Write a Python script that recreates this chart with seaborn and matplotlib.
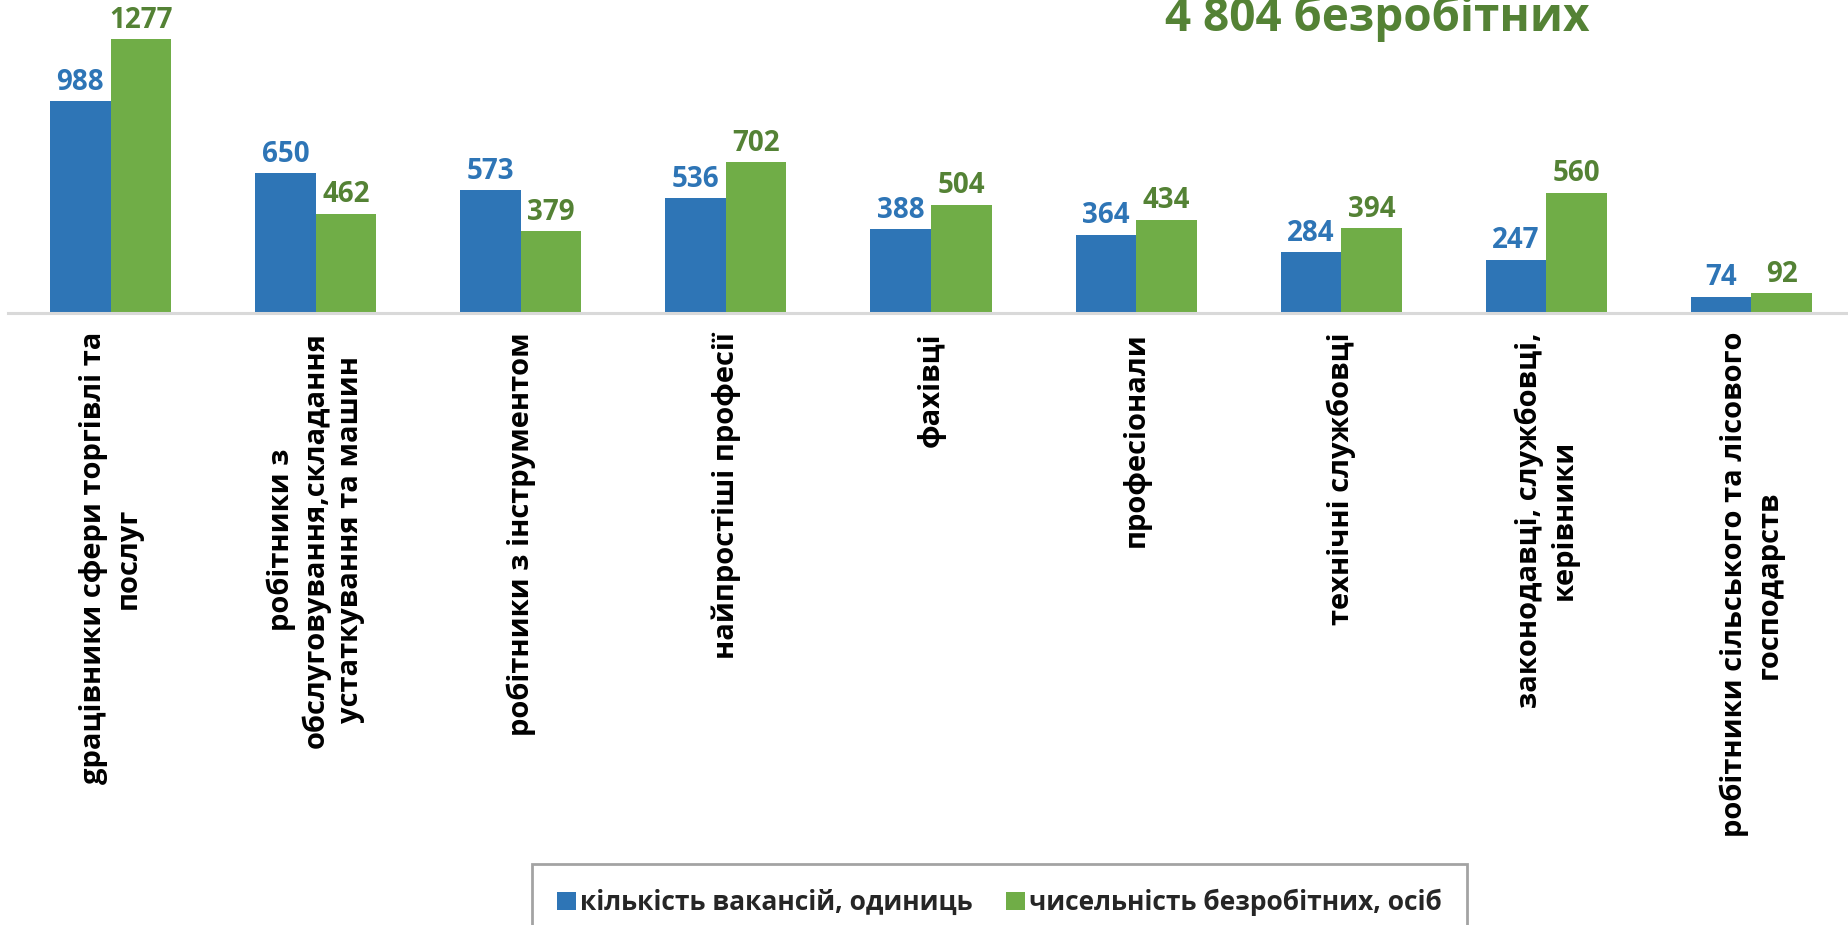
import matplotlib
matplotlib.use("Agg")
import matplotlib.pyplot as plt
import seaborn as sns
import pandas as pd

categories = [
    "gрацівники сфери торгівлі та\nпослуг",
    "робітники з\nобслуговування,складання\nустаткування та машин",
    "робітники з інструментом",
    "найпростіші професії",
    "фахівці",
    "професіонали",
    "технічні службовці",
    "законодавці, службовці,\nкерівники",
    "робітники сільського та лісового\nгосподарств",
]
vacancies = [988, 650, 573, 536, 388, 364, 284, 247, 74]
unemployed = [1277, 462, 379, 702, 504, 434, 394, 560, 92]
series_names = ["кількість вакансій, одиниць", "чисельність безробітних, осіб"]
title_text = "4 804 безробітних"

BLUE = "#2E75B6"
GREEN = "#70AD47"
BLUE_TXT = "#2E75B6"
GREEN_TXT = "#548235"

sns.set_theme(style="white")
plt.rcParams["font.family"] = ["Open Sans", "DejaVu Sans"]

rows = []
for c, v in zip(categories, vacancies):
    rows.append({"cat": c, "series": series_names[0], "value": v})
for c, v in zip(categories, unemployed):
    rows.append({"cat": c, "series": series_names[1], "value": v})
df = pd.DataFrame(rows)

W, H = 1849, 925
fig = plt.figure(figsize=(W / 100, H / 100), dpi=100)
ax_left = 8 / W
ax_bottom = 1 - 312.5 / H
ax = fig.add_axes([ax_left, ax_bottom, 1846 / W, 312.5 / H])

sns.barplot(data=df, x="cat", y="value", hue="series", order=categories,
            hue_order=series_names, palette=[BLUE, GREEN], width=0.59,
            saturation=1, linewidth=0, ax=ax, legend=True)

ax.set_ylim(0, 1460)
ax.set_xlim(-0.5, len(categories) - 0.5)
ax.set_xlabel("")
ax.set_ylabel("")
ax.set_yticks([])
for s in ["left", "right", "top"]:
    ax.spines[s].set_visible(False)
ax.spines["bottom"].set_color("#D9D9D9")
ax.spines["bottom"].set_linewidth(2.2)
ax.tick_params(axis="x", length=0, pad=14)
ax.set_xticks(range(len(categories)))
ax.set_xticklabels(categories, rotation=90, ha="center", va="top",
                   multialignment="center", fontsize=21, fontweight="bold",
                   color="black", linespacing=1.25)

for cont, col in zip(ax.containers, [BLUE_TXT, GREEN_TXT]):
    ax.bar_label(cont, padding=3, fontsize=20, fontweight="bold", color=col)

handles, labels = ax.get_legend_handles_labels()
ax.get_legend().remove()
leg = fig.legend(handles, labels, loc="upper left",
                 bbox_to_anchor=(532 / W, 1 - 864 / H), ncol=2,
                 frameon=True, fancybox=False, edgecolor="#8C8C8C",
                 prop={"size": 19, "weight": "bold"},
                 handlelength=0.7, handleheight=0.7, handletextpad=0.15,
                 columnspacing=1.3, borderpad=0.95, borderaxespad=0)
leg.get_frame().set_linewidth(2)

fig.text((1167 + 1588) / 2 / W, 1 - 31 / H, title_text, ha="center",
         va="baseline", fontsize=33, fontweight="bold", color=GREEN_TXT)

fig.savefig("out.png", dpi=100)
